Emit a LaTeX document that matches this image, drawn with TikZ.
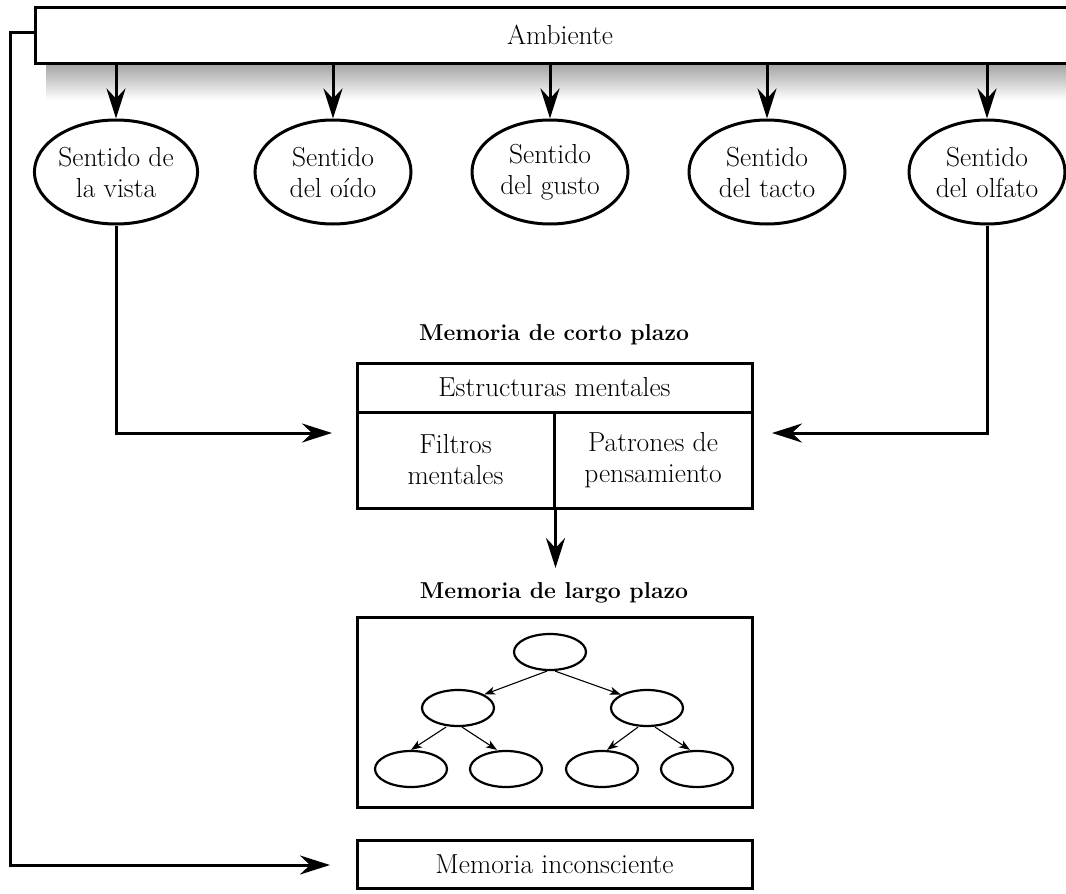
\documentclass[tikz,border=0pt]{standalone}
\usepackage{fontspec}
\usetikzlibrary{arrows.meta,shapes.geometric,calc}
\begin{document}
\begin{tikzpicture}[x=1pt,y=-1pt,
  lw/.style={line width=3pt},
  txt/.style={font=\fontsize{27.5}{31}\selectfont, align=center},
  arr/.style={lw,-{Stealth[length=30pt,width=19pt,inset=10pt]}},
  sense/.style={draw,lw,fill=white,ellipse,minimum width=156pt,minimum height=104pt,inner sep=0pt,txt},
  cell/.style={draw,lw,fill=white,rectangle,inner sep=0pt,txt},
  tnode/.style={draw,line width=2.2pt,ellipse,minimum width=72pt,minimum height=36pt,inner sep=0pt},
  tarr/.style={line width=1.1pt,-{Stealth[length=11pt,width=8pt,inset=3pt]}},
  head/.style={font=\bfseries\fontsize{23}{28}\selectfont}
]
\clip (0,0) rectangle (1066,894);
\fill[white] (0,0) rectangle (1066,894);
% shadow under the Ambiente bar
\shade[top color=black!40, bottom color=white] (46,60) rectangle (1066,100);
\shade[left color=white, right color=black!40, middle color=black!15] (36,60) rectangle (50,64);
% Ambiente bar
\node[cell,minimum width=1050pt,minimum height=56pt] (amb) at (560,35) {Ambiente};
% senses
\node[sense] (s1) at (116,172) {Sentido de\\la vista};
\node[sense] (s2) at (333,172) {Sentido\\del oído};
\node[sense] (s3) at (550,172) {Sentido\\del gusto};
\node[sense] (s4) at (767,172) {Sentido\\del tacto};
\node[sense] (s5) at (987,172) {Sentido\\del olfato};
\foreach \i in {1,...,5} \draw[arr] (amb.south -| s\i.north) -- (s\i.north);
% short term memory
\node[head] (cpl) at (554,335) {Memoria de corto plazo};
\node[cell,minimum width=395pt,minimum height=49pt] (est) at (554.5,387.5) {Estructuras mentales};
\node[cell,minimum width=197pt,minimum height=96pt] (fil) at (455.5,460) {Filtros\\mentales};
\node[cell,minimum width=198pt,minimum height=96pt] (pat) at (653,460) {Patrones de\\pensamiento};
\coordinate (inL) at (332,433);
\coordinate (inR) at (772,433);
\draw[arr] (s1.south) |- (inL);
\draw[arr] (s5.south) |- (inR);
\coordinate (dn) at (554,568);
\draw[arr] (fil.south east) -- (fil.south east |- dn);
% long term memory
\node[head] (lpl) at (554,593) {Memoria de largo plazo};
\node[cell,minimum width=395pt,minimum height=190pt] (ltm) at (554.5,712) {};
\node[tnode] (t0) at (550,652) {};
\node[tnode] (t1) at (458,708) {};
\node[tnode] (t2) at (647,708) {};
\node[tnode] (t3) at (411,769) {};
\node[tnode] (t4) at (506,769) {};
\node[tnode] (t5) at (602,769) {};
\node[tnode] (t6) at (697,769) {};
\draw[tarr] ([xshift=-3pt]t0.south) -- (t1.north east);
\draw[tarr] ([xshift=5pt]t0.south) -- (t2.north west);
\draw[tarr] ([xshift=-12pt]t1.south) -- (t3.north);
\draw[tarr] ([xshift=4pt]t1.south) -- ([xshift=-9pt]t4.north);
\draw[tarr] ([xshift=-9pt]t2.south) -- ([xshift=5pt]t5.north);
\draw[tarr] ([xshift=8pt]t2.south) -- ([xshift=-7pt]t6.north);
% unconscious memory
\node[cell,minimum width=395pt,minimum height=48pt] (inc) at (554.5,864) {Memoria inconsciente};
\coordinate (inI) at (330,865);
\draw[arr] ([yshift=3pt]amb.west) -| (10,865) -- (inI);
\end{tikzpicture}
\end{document}
